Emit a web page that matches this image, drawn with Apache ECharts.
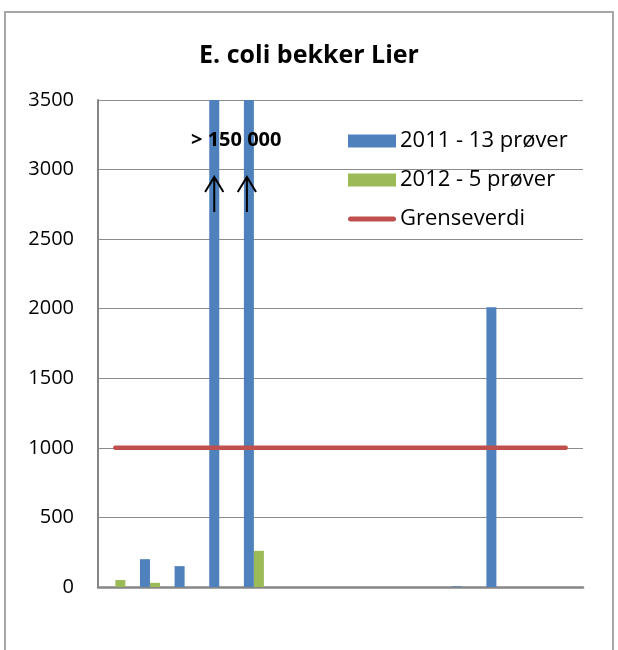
<!DOCTYPE html>
<html>
<head>
<meta charset="utf-8">
<script src="https://cdn.jsdelivr.net/npm/echarts@6/dist/echarts.min.js"></script>
<style>
  html, body { margin: 0; padding: 0; background: #fff; }
  #chart { width: 618px; height: 650px; }
</style>
</head>
<body>
<div id="chart"></div>
<script>
// prøvepunkter (ingen navn på aksen i originalen)
var categories = ['1', '2', '3', '4', '5', '6', '7', '8', '9', '10', '11', '12', '13', '14'];
// E. coli per 100 ml, to verdier er > 150 000 og kuttes ved 3500
var values2011 = [0, 200, 150, 150000, 150000, 0, 0, 0, 0, 0, 5, 2010, 0, 0];
var values2012 = [50, 30, null, null, 260, null, null, null, null, null, null, null, null, null];
var grenseverdi = [1000, 1000, 1000, 1000, 1000, 1000, 1000, 1000, 1000, 1000, 1000, 1000, 1000, 1000];
var seriesNames = ['2011 - 13 prøver', '2012 - 5 prøver', 'Grenseverdi'];
var yTicks = [0, 500, 1000, 1500, 2000, 2500, 3000, 3500];
var overLabel = '> 150 000';

var font = '"Open Sans", "Noto Sans", sans-serif';
var arrowPath = 'path://M10,0 L20,16.5 L18.3,17.5 L11,5.5 L11,37 L9,37 L9,5.5 L1.7,17.5 L0,16.5 Z';

var myChart = echarts.init(document.getElementById('chart'));

var option = {
    animation: false,
    backgroundColor: '#fff',
    title: {
        text: 'E. coli bekker Lier',
        left: 'center',
        top: 38,
        textStyle: {
            fontFamily: font,
            fontSize: 25,
            fontWeight: 'bold',
            color: '#000'
        }
    },
    graphic: [{
        type: 'rect',
        shape: { x: 5, y: 12, width: 608, height: 700 },
        style: { fill: 'none', stroke: '#a6a6a6', lineWidth: 2 },
        silent: true
    }],
    legend: {
        orient: 'vertical',
        left: 343,
        top: 125,
        itemWidth: 48,
        itemHeight: 13,
        itemGap: 17,
        textStyle: { fontFamily: font, fontSize: 22, color: '#000', padding: [0, 0, 0, -1] },
        data: [
            { name: seriesNames[0], icon: 'rect' },
            { name: seriesNames[1], icon: 'rect' },
            { name: seriesNames[2], icon: 'path://M2.5,0 L45.5,0 A2.5,2.5 0 0 1 45.5,5 L2.5,5 A2.5,2.5 0 0 1 2.5,0 Z' }
        ]
    },
    grid: {
        left: 98,
        right: 35,
        top: 100,
        bottom: 63
    },
    xAxis: {
        type: 'category',
        data: categories,
        axisLine: { lineStyle: { color: '#868686', width: 2.5 } },
        axisTick: { show: false },
        axisLabel: { show: false }
    },
    yAxis: {
        type: 'value',
        min: yTicks[0],
        max: yTicks[yTicks.length - 1],
        interval: 500,
        axisLine: { show: true, lineStyle: { color: '#868686', width: 2 } },
        axisTick: { show: false },
        axisLabel: {
            fontFamily: font,
            fontSize: 20,
            color: '#000',
            margin: 24,
            formatter: function (v) { return String(v); }
        },
        splitLine: { lineStyle: { color: '#8c8c8c', width: 1 } }
    },
    series: [{
        name: seriesNames[0],
        type: 'bar',
        data: values2011,
        barWidth: 10,
        barGap: '0%',
        clip: true,
        itemStyle: { color: '#4F81BD' },
        markPoint: {
            symbol: arrowPath,
            symbolSize: [20, 37],
            symbolKeepAspect: false,
            itemStyle: { color: '#000' },
            label: { show: false },
            data: [
                { coord: [3, 2828], symbolOffset: [0, 0] },
                { coord: [4, 2828], symbolOffset: [-2, 0] },
                {
                    coord: [3, 3212],
                    symbol: 'rect',
                    symbolSize: 1,
                    itemStyle: { color: 'rgba(0,0,0,0)' },
                    label: {
                        show: true,
                        position: 'inside',
                        offset: [22, 0],
                        formatter: overLabel,
                        fontFamily: font,
                        fontSize: 20,
                        fontWeight: 'bold',
                        color: '#000'
                    }
                }
            ]
        }
    }, {
        name: seriesNames[1],
        type: 'bar',
        data: values2012,
        barWidth: 10,
        barGap: '0%',
        itemStyle: { color: '#9BBB59' }
    }, {
        name: seriesNames[2],
        type: 'line',
        data: grenseverdi,
        symbol: 'none',
        lineStyle: { color: '#C0504D', width: 4.5, cap: 'round' },
        itemStyle: { color: '#C0504D' },
        z: 5
    }]
};
myChart.setOption(option);
</script>
</body>
</html>
